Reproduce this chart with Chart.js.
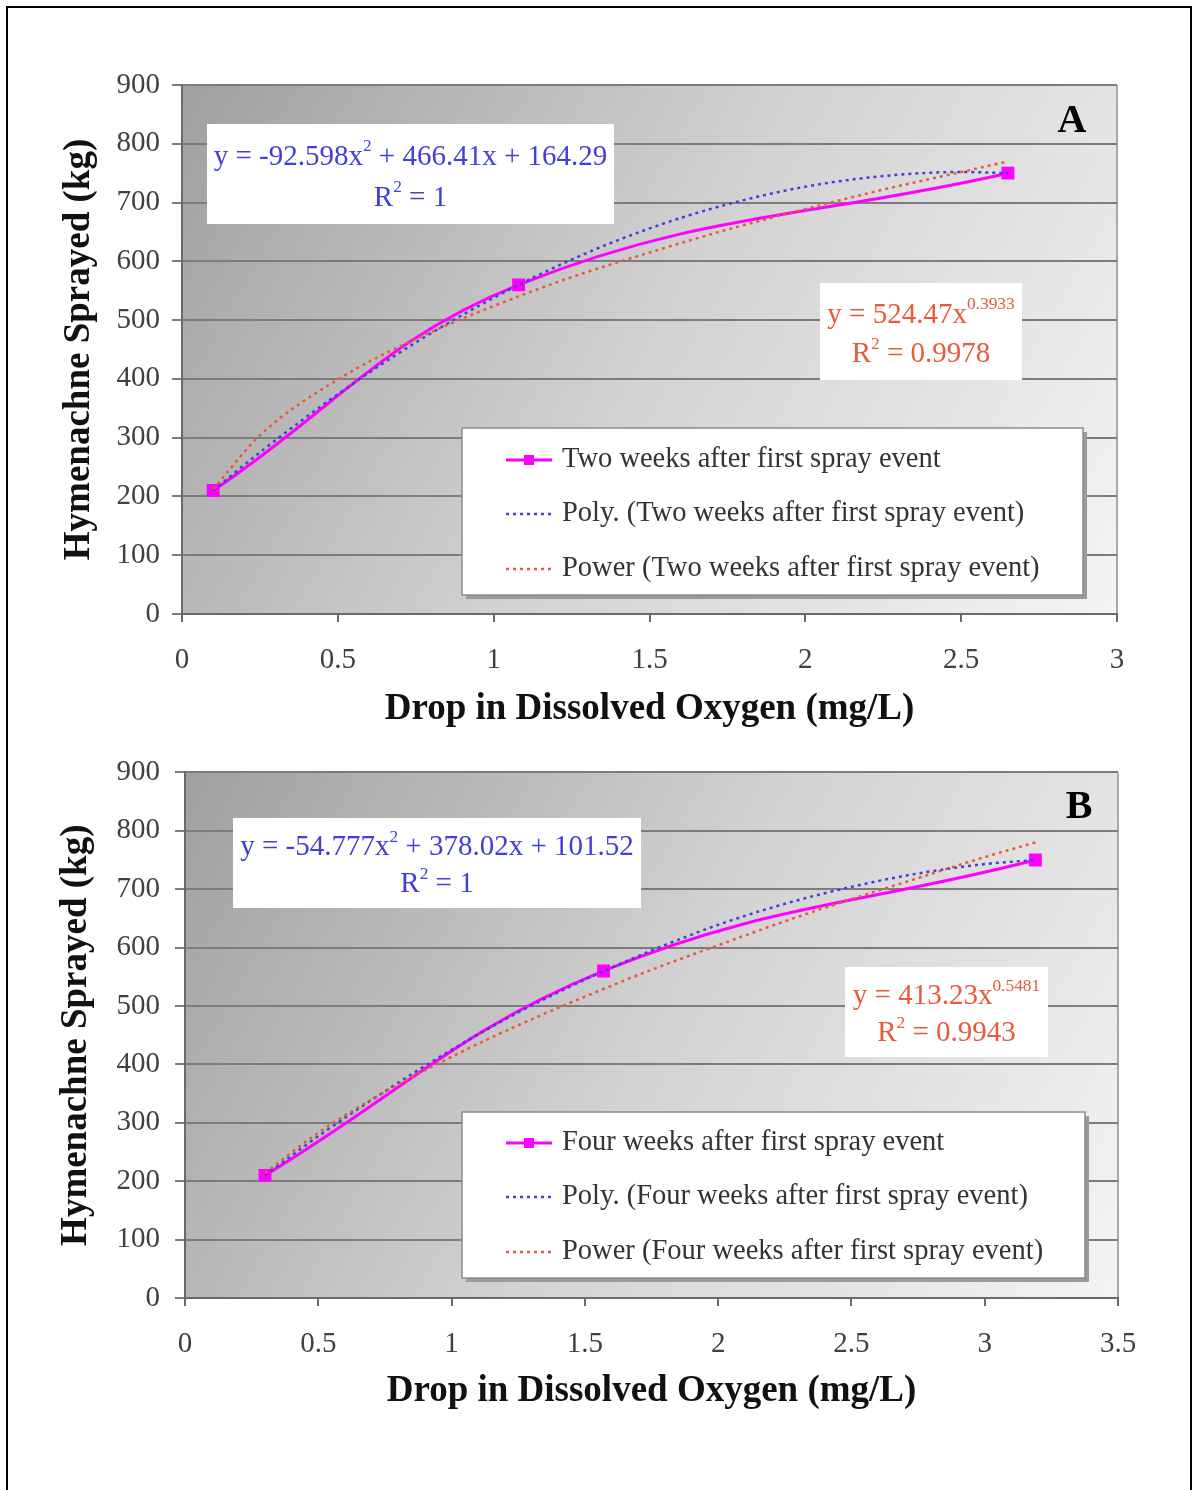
<!DOCTYPE html>
<html>
<head>
<meta charset="utf-8">
<script src="https://cdn.jsdelivr.net/npm/chart.js@4.4.0/dist/chart.umd.min.js"></script>
<style>
  body { margin:0; background:#fff; width:1196px; height:1490px; overflow:hidden; position:relative; }
  #frame { position:absolute; left:6px; top:6px; width:1182px; height:1500px; border:2px solid #000; }
  .wrap { position:absolute; left:0; width:1196px; }
  #wrapA { top:0; height:740px; }
  #wrapB { top:740px; height:680px; }
</style>
</head>
<body>
<div id="frame"></div>
<div class="wrap" id="wrapA"><canvas id="chartA"></canvas></div>
<div class="wrap" id="wrapB"><canvas id="chartB"></canvas></div>
<script>
// ---- Panel A : two weeks after first spray event ----
var xA = [0.1, 1.08, 2.65];
var yA = [210, 560, 750];
var trendXA = [0.1, 0.25, 0.5, 0.75, 1, 1.25, 1.5, 1.75, 2, 2.25, 2.5, 2.65];
var polyA   = [210, 275, 374, 462, 538, 603, 656, 697, 727, 745, 752, 750];
var powerA  = [212, 304, 399, 468, 524, 573, 615, 654, 689, 722, 752, 770];

// ---- Panel B : four weeks after first spray event ----
var xB = [0.3, 1.57, 3.19];
var yB = [210, 560, 750];
var trendXB = [0.3, 0.5, 0.75, 1, 1.25, 1.5, 1.75, 2, 2.25, 2.5, 2.75, 3, 3.19];
var polyB   = [210, 277, 354, 425, 489, 545, 595, 639, 675, 704, 727, 743, 750];
var powerB  = [214, 283, 353, 413, 467, 516, 562, 604, 645, 683, 719, 755, 780];

var FONT = '"Liberation Serif", "Times New Roman", serif';
var MAGENTA = '#ff00ff', BLUE = '#4040d8', RED = '#e85a3a';

function pts(xs, ys) {
  return xs.map(function(x, i) { return { x: x, y: ys[i] }; });
}

function drawRich(ctx, parts, cx, cy, size, color) {
  var w = 0;
  parts.forEach(function(p) {
    ctx.font = (p[1] ? size * 0.6 : size) + 'px ' + FONT;
    w += ctx.measureText(p[0]).width;
  });
  var x = cx - w / 2;
  ctx.fillStyle = color;
  ctx.textAlign = 'left';
  ctx.textBaseline = 'middle';
  parts.forEach(function(p) {
    var s = p[1] ? size * 0.6 : size;
    ctx.font = s + 'px ' + FONT;
    ctx.fillText(p[0], x, p[1] ? cy - size * 0.36 : cy);
    x += ctx.measureText(p[0]).width;
  });
}

// plot background gradient
var bgPlugin = {
  id: 'bg',
  beforeDraw: function(chart) {
    var a = chart.chartArea, ctx = chart.ctx;
    var g = ctx.createLinearGradient(a.left, a.top, a.right, a.bottom);
    g.addColorStop(0, '#a0a0a0');
    g.addColorStop(0.5, '#d2d2d2');
    g.addColorStop(1, '#f4f4f4');
    ctx.save();
    ctx.fillStyle = g;
    ctx.fillRect(a.left, a.top, a.right - a.left, a.bottom - a.top);
    ctx.strokeStyle = '#a8a8a8';
    ctx.lineWidth = 2;
    ctx.beginPath();
    ctx.moveTo(a.right, a.top); ctx.lineTo(a.right, a.bottom);
    ctx.stroke();
    ctx.restore();
  }
};

function notesPlugin(n) {
  return {
    id: 'notes',
    afterDraw: function(chart) {
      var ctx = chart.ctx;
      ctx.save();
      // equation boxes
      n.boxes.forEach(function(b) {
        ctx.fillStyle = '#fff';
        ctx.fillRect(b.x, b.y, b.w, b.h);
        drawRich(ctx, b.l1, b.x + b.w / 2, b.y + b.h * 0.33, 29, b.color);
        drawRich(ctx, b.l2, b.x + b.w / 2, b.y + b.h * 0.74, 29, b.color);
      });
      // panel letter
      ctx.fillStyle = '#000';
      ctx.font = 'bold 40px ' + FONT;
      ctx.textAlign = 'center';
      ctx.textBaseline = 'middle';
      ctx.fillText(n.letter, n.lx, n.ly);
      // legend
      var L = n.legend;
      ctx.fillStyle = '#9a9a9a';
      ctx.fillRect(L.x + 4, L.y + 4, L.w, L.h);
      ctx.fillStyle = '#fff';
      ctx.fillRect(L.x, L.y, L.w, L.h);
      ctx.strokeStyle = '#8c8c8c';
      ctx.lineWidth = 1.5;
      ctx.strokeRect(L.x, L.y, L.w, L.h);
      var ds = chart.data.datasets;
      for (var i = 0; i < 3; i++) {
        var d = ds[i];
        var ry = L.y + L.rows[i];
        ctx.strokeStyle = d.borderColor;
        ctx.lineWidth = d.borderWidth;
        ctx.setLineDash(d.borderDash || []);
        ctx.beginPath();
        ctx.moveTo(L.x + 44, ry); ctx.lineTo(L.x + 90, ry);
        ctx.stroke();
        ctx.setLineDash([]);
        if (i === 0) {
          ctx.fillStyle = d.borderColor;
          ctx.fillRect(L.x + 62, ry - 5, 10, 10);
        }
        ctx.fillStyle = '#333';
        ctx.font = '28.5px ' + FONT;
        ctx.textAlign = 'left';
        ctx.textBaseline = 'middle';
        ctx.fillText(d.label, L.x + 100, ry);
      }
      ctx.restore();
    }
  };
}

function makeChart(id, cfg) {
  return new Chart(document.getElementById(id), {
    type: 'line',
    data: {
      datasets: [{
        label: cfg.name,
        data: pts(cfg.x, cfg.y),
        borderColor: MAGENTA,
        backgroundColor: MAGENTA,
        borderWidth: 3,
        pointStyle: 'rect',
        pointRadius: 7,
        tension: 0.4,
        order: 3
      }, {
        label: 'Poly. (' + cfg.name + ')',
        data: pts(cfg.tx, cfg.poly),
        borderColor: BLUE,
        borderWidth: 2.5,
        borderDash: [3, 4],
        pointRadius: 0,
        cubicInterpolationMode: 'monotone',
        order: 2
      }, {
        label: 'Power (' + cfg.name + ')',
        data: pts(cfg.tx, cfg.power),
        borderColor: RED,
        borderWidth: 2.5,
        borderDash: [3, 4],
        pointRadius: 0,
        cubicInterpolationMode: 'monotone',
        order: 1
      }]
    },
    options: {
      responsive: true,
      maintainAspectRatio: false,
      animation: false,
      layout: { padding: cfg.pad },
      plugins: { legend: { display: false }, tooltip: { enabled: false } },
      scales: {
        x: {
          type: 'linear', min: 0, max: cfg.xmax,
          afterFit: function(s) { s.height = cfg.xh; },
          ticks: { stepSize: 0.5, padding: cfg.xtp, color: '#404040', font: { family: FONT, size: 29 },
                   callback: function(v) { return String(v); } },
          grid: { drawOnChartArea: false, drawTicks: true, tickLength: 8, color: '#6a6a6a', lineWidth: 2 },
          border: { display: true, color: '#6a6a6a', width: 2 },
          title: { display: true, text: 'Drop in Dissolved Oxygen (mg/L)', color: '#111',
                   font: { family: FONT, size: 37, weight: 'bold' }, padding: { top: 0, bottom: cfg.xtb } }
        },
        y: {
          min: 0, max: 900,
          afterFit: function(s) { s.width = cfg.yw; },
          ticks: { stepSize: 100, padding: cfg.ytp, color: '#404040', font: { family: FONT, size: 29 } },
          grid: { color: '#7c7c7c', lineWidth: 2, tickLength: 10 },
          border: { display: true, color: '#6a6a6a', width: 2 },
          title: { display: true, text: 'Hymenachne Sprayed (kg)', color: '#111',
                   font: { family: FONT, size: 37, weight: 'bold' }, padding: { top: cfg.ytt, bottom: 0 } }
        }
      }
    },
    plugins: [bgPlugin, notesPlugin(cfg.notes)]
  });
}

makeChart('chartA', {
  name: 'Two weeks after first spray event',
  x: xA, y: yA, tx: trendXA, poly: polyA, power: powerA, xmax: 3,
  pad: { top: 85, right: 79, left: 0, bottom: 0 },
  xh: 126, xtp: 21, xtb: 8, yw: 182, ytp: 12, ytt: 57,
  notes: {
    boxes: [
      { x: 207, y: 124, w: 407, h: 100, color: BLUE,
        l1: [['y = -92.598x'], ['2', 1], [' + 466.41x + 164.29']], l2: [['R'], ['2', 1], [' = 1']] },
      { x: 820, y: 283, w: 202, h: 97, color: RED,
        l1: [['y = 524.47x'], ['0.3933', 1]], l2: [['R'], ['2', 1], [' = 0.9978']] }
    ],
    letter: 'A', lx: 1072, ly: 122,
    legend: { x: 462, y: 428, w: 621, h: 167, rows: [32, 86, 141] }
  }
});

makeChart('chartB', {
  name: 'Four weeks after first spray event',
  x: xB, y: yB, tx: trendXB, poly: polyB, power: powerB, xmax: 3.5,
  pad: { top: 29, right: 78, left: 0, bottom: 0 },
  xh: 122, xtp: 21, xtb: 6, yw: 185, ytp: 15, ytt: 54,
  notes: {
    boxes: [
      { x: 233, y: 78, w: 408, h: 90, color: BLUE,
        l1: [['y = -54.777x'], ['2', 1], [' + 378.02x + 101.52']], l2: [['R'], ['2', 1], [' = 1']] },
      { x: 845, y: 227, w: 203, h: 90, color: RED,
        l1: [['y = 413.23x'], ['0.5481', 1]], l2: [['R'], ['2', 1], [' = 0.9943']] }
    ],
    letter: 'B', lx: 1079, ly: 68,
    legend: { x: 462, y: 372, w: 623, h: 166, rows: [31, 85, 140] }
  }
});
</script>
</body>
</html>
